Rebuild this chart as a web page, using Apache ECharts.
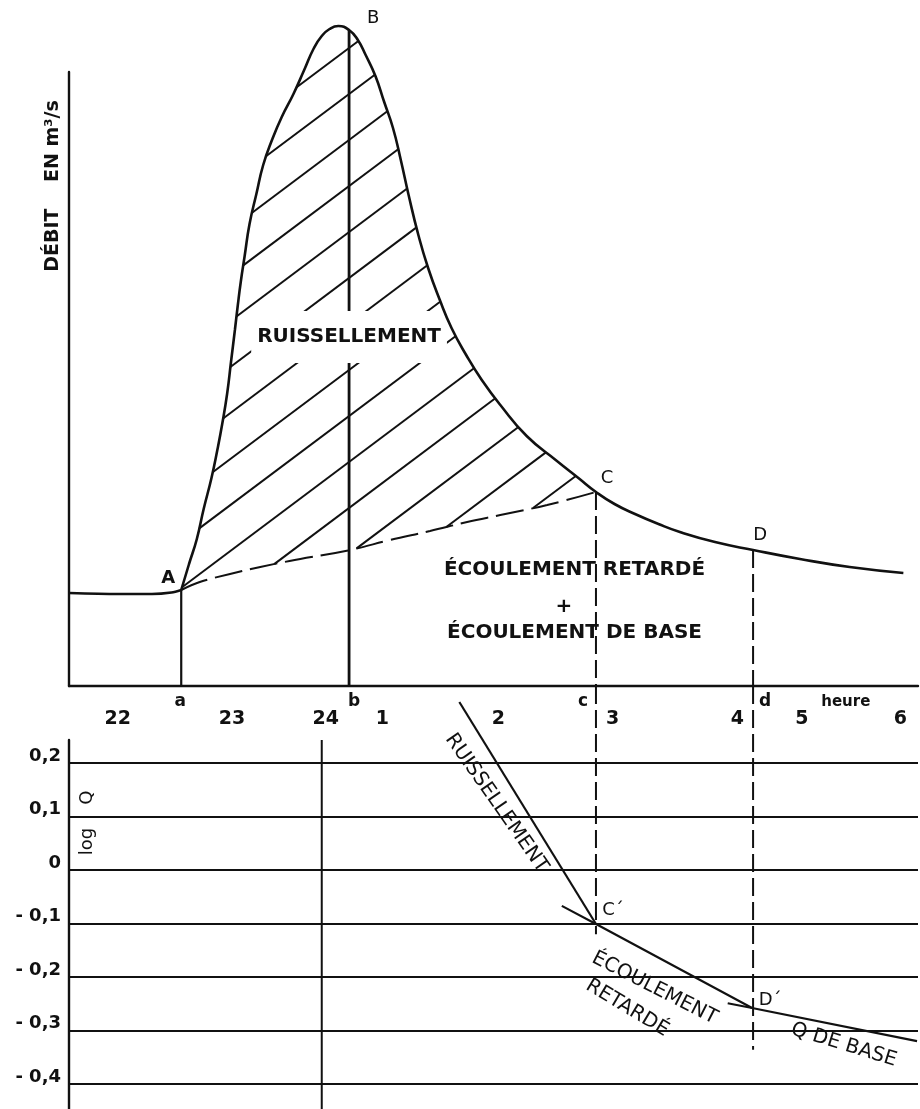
<!DOCTYPE html>
<html>
<head>
<meta charset="utf-8">
<script src="https://cdn.jsdelivr.net/npm/echarts@6/dist/echarts.min.js"></script>
<style>
  html, body { margin: 0; padding: 0; background: #fff; }
  #chart { width: 920px; height: 1109px; }
</style>
</head>
<body>
<div id="chart"></div>
<script>
// ---- Time axis (hours; after midnight counted as 24 + h) ----
const hourTickLabels = ['22', '23', '24', '1', '2', '3', '4', '5', '6'];
const hourTickPos    = [22.0, 23.17, 24.13, 24.71, 25.90, 27.07, 28.35, 29.01, 30.02];
const midnight = 24.09;

// ---- Upper panel: discharge (m3/s) ----
const preStorm = [[21.5, 9.3], [22.0, 9.2], [22.35, 9.2], [22.55, 9.35], [22.65, 9.6]];
const hydrograph = [
  [22.65, 9.6], [22.73, 12.2], [22.81, 14.7], [22.88, 17.7], [22.96, 20.8], [23.02, 23.6],
  [23.07, 26.2], [23.12, 29.2], [23.16, 32.4], [23.20, 35.6], [23.23, 38.1], [23.26, 40.4],
  [23.30, 43.0], [23.35, 46.2], [23.42, 49.2], [23.49, 52.1], [23.58, 54.6], [23.68, 56.9],
  [23.80, 59.2], [23.91, 61.6], [24.01, 63.8], [24.09, 65.0], [24.17, 65.7], [24.26, 66.0],
  [24.37, 65.6], [24.46, 64.6], [24.54, 63.1], [24.64, 61.0], [24.73, 58.4], [24.82, 55.8],
  [24.90, 52.6], [24.98, 49.1], [25.08, 45.1], [25.18, 41.8], [25.30, 38.6], [25.42, 35.8],
  [25.57, 33.1], [25.73, 30.6], [25.92, 28.1], [26.19, 25.0], [26.50, 22.5], [26.72, 20.8],
  [26.90, 19.4], [27.09, 18.2], [27.30, 17.2], [27.54, 16.2], [27.76, 15.4], [28.12, 14.4],
  [28.51, 13.6], [28.99, 12.7], [29.50, 11.9], [30.05, 11.3]
];
// separation of runoff from delayed + base flow, A -> C
const separation = [
  [22.65, 9.6], [22.84, 10.4], [23.15, 11.2], [23.46, 11.9], [23.76, 12.5], [24.38, 13.6],
  [24.79, 14.6], [25.20, 15.5], [25.58, 16.4], [25.92, 17.1], [26.40, 18.1], [26.90, 19.4]
];
const pointA = [22.65, 9.6];
const pointB = [24.37, 65.6];
const pointC = [26.90, 19.4];
const pointD = [28.51, 13.6];

// ---- Lower panel: log Q ----
const logTicks = [0.2, 0.1, 0, -0.1, -0.2, -0.3, -0.4];
const logTickLabels = ['0,2', '0,1', '0', '- 0,1', '- 0,2', '- 0,3', '- 0,4'];
const logRunoff  = [[25.50, 0.314], [26.90, -0.101]];
const logDelayed = [[26.55, -0.067], [26.90, -0.101], [28.50, -0.258]];
const logBase    = [[28.25, -0.249], [28.50, -0.258], [30.19, -0.320]];
const pointCp = [26.90, -0.101];
const pointDp = [28.50, -0.258];
const logAtTopAxis = 0.344;   // log value level of the upper panel's time axis
const cGuideEnd = -0.12;
const dGuideEnd = -0.336;

const INK = '#111';
const FONT = '"DejaVu Sans", Verdana, sans-serif';
const X_MIN = 21.5, X_MAX = 30.2;

function lineSeries(data, grid, width, extra) {
  return Object.assign({
    type: 'line', data, xAxisIndex: grid, yAxisIndex: grid,
    symbol: 'none', silent: true, clip: false, z: 3,
    lineStyle: { color: INK, width: width },
    emphasis: { disabled: true }
  }, extra || {});
}

function textSeries(items, grid, style, z) {
  return {
    type: 'scatter', xAxisIndex: grid, yAxisIndex: grid,
    symbolSize: 1, itemStyle: { color: 'rgba(0,0,0,0)', opacity: 1 },
    silent: true, clip: false, z: z || 4,
    emphasis: { disabled: true },
    label: Object.assign({ show: true, position: 'inside', color: INK, opacity: 1, fontFamily: FONT }, style),
    data: items.map(it => ({ value: it.at, label: Object.assign({ formatter: it.text }, it.label || {}) }))
  };
}

// Hatching of the runoff area between the hydrograph and the separation line
const hatchSeries = {
  type: 'custom', xAxisIndex: 0, yAxisIndex: 0, z: 1, silent: true, clip: false,
  data: [pointA],
  renderItem: function (params, api) {
    const upper = hydrograph.filter(p => p[0] <= pointC[0]);
    const poly = upper.concat(separation.slice().reverse()).map(p => api.coord(p));
    const pb = api.coord(pointB);
    const slope = 0.75, gap = 46;
    const children = [];
    for (let k = 0; k < 20; k++) {
      const c = pb[1] + 18 + gap * k;
      const hits = [];
      for (let i = 0; i < poly.length - 1; i++) {
        const p = poly[i], q = poly[i + 1];
        const f1 = p[1] + slope * (p[0] - pb[0]) - c;
        const f2 = q[1] + slope * (q[0] - pb[0]) - c;
        if ((f1 < 0) !== (f2 < 0)) {
          const t = f1 / (f1 - f2);
          hits.push([p[0] + t * (q[0] - p[0]), p[1] + t * (q[1] - p[1])]);
        }
      }
      hits.sort((u, v) => u[0] - v[0]);
      for (let j = 0; j + 1 < hits.length; j += 2) {
        children.push({
          type: 'line',
          shape: { x1: hits[j][0], y1: hits[j][1], x2: hits[j + 1][0], y2: hits[j + 1][1] },
          style: { stroke: INK, lineWidth: 2 }
        });
      }
    }
    return { type: 'group', children };
  }
};

const guideDash = [18, 6];

const series = [
  hatchSeries,
  // vertical guides a, b (solid) and c, d (dashed)
  lineSeries([[pointA[0], pointA[1]], [pointA[0], 0]], 0, 2.2, { z: 1 }),
  lineSeries([[pointB[0], pointB[1]], [pointB[0], 0]], 0, 2.8, { z: 1 }),
  lineSeries([[pointC[0], pointC[1]], [pointC[0], 0]], 0, 2, { z: 1, lineStyle: { color: INK, width: 2, type: guideDash } }),
  lineSeries([[pointD[0], pointD[1]], [pointD[0], 0]], 0, 2, { z: 1, lineStyle: { color: INK, width: 2, type: guideDash } }),
  lineSeries([[pointC[0], logAtTopAxis], [pointC[0], cGuideEnd]], 1, 2, { z: 1, lineStyle: { color: INK, width: 2, type: guideDash } }),
  lineSeries([[pointD[0], logAtTopAxis], [pointD[0], dGuideEnd]], 1, 2, { z: 1, lineStyle: { color: INK, width: 2, type: guideDash } }),
  // midnight line in the lower panel
  lineSeries([[midnight, 0.243], [midnight, -0.5]], 1, 2, { z: 1 }),

  // label over the runoff area (white box breaks the hatching)
  textSeries([{ text: 'RUISSELLEMENT', at: [pointB[0], 34.9] }], 0,
    { fontSize: 20, fontWeight: 'bold', backgroundColor: '#fff', padding: [16, 6] }, 2),

  // hydrograph and separation line
  lineSeries(preStorm, 0, 2.4, { smooth: 0.3 }),
  lineSeries(hydrograph, 0, 2.6, { smooth: 0.5 }),
  lineSeries(separation, 0, 2, { smooth: 0.4, lineStyle: { color: INK, width: 2, type: [28, 8] } }),

  // lower panel recession lines
  lineSeries(logRunoff, 1, 2.2),
  lineSeries(logDelayed, 1, 2.2),
  lineSeries(logBase, 1, 2.2),

  // upper panel texts
  textSeries([
    { text: 'ÉCOULEMENT RETARDÉ', at: [26.68, 11.6] },
    { text: '+', at: [26.57, 7.9] },
    { text: 'ÉCOULEMENT DE BASE', at: [26.68, 5.3] },
    { text: 'DÉBIT    EN m³/s', at: [21.34, 50.0], label: { rotate: 90, fontSize: 19 } },
    { text: 'A', at: pointA, label: { offset: [-13, -12], fontSize: 18 } },
    { text: 'B', at: pointB, label: { offset: [24, -12], fontWeight: 'normal', fontSize: 18 } },
    { text: 'C', at: pointC, label: { offset: [11, -14], fontWeight: 'normal', fontSize: 18 } },
    { text: 'D', at: pointD, label: { offset: [7, -15], fontWeight: 'normal', fontSize: 18 } }
  ], 0, { fontSize: 20, fontWeight: 'bold' }),

  // time axis labels
  textSeries(hourTickLabels.map((t, i) => ({ text: t, at: [hourTickPos[i], -3.3] })), 0,
    { fontSize: 19, fontWeight: 'bold' }),
  textSeries([
    { text: 'a', at: [pointA[0], -1.6], label: { offset: [-1, 0] } },
    { text: 'b', at: [pointB[0], -1.6], label: { offset: [5, 0] } },
    { text: 'c', at: [pointC[0], -1.6], label: { offset: [-13, 0] } },
    { text: 'd', at: [pointD[0], -1.6], label: { offset: [12, 0] } },
    { text: 'heure', at: [29.46, -1.6], label: { fontSize: 15 } }
  ], 0, { fontSize: 17, fontWeight: 'bold' }),

  // lower panel texts
  textSeries([
    { text: 'RUISSELLEMENT', at: [25.88, 0.125], label: { rotate: -55 } },
    { text: 'ÉCOULEMENT', at: [27.50, -0.221], label: { rotate: -27 } },
    { text: 'RETARDÉ', at: [27.22, -0.258], label: { rotate: -31 } },
    { text: 'Q DE BASE', at: [29.44, -0.327], label: { rotate: -17 } },
    { text: 'C´', at: pointCp, label: { offset: [17, -14], fontSize: 18 } },
    { text: 'D´', at: pointDp, label: { offset: [18, -8], fontSize: 18 } },
    { text: 'log    Q', at: [21.69, 0.088], label: { rotate: 90, fontSize: 18 } }
  ], 1, { fontSize: 20 })
];

const axisLineStyle = { color: INK, width: 2.4 };

const option = {
  animation: false,
  backgroundColor: '#fff',
  grid: [
    { left: 69, top: 72, width: 849, height: 614, outerBoundsMode: 'none' },
    { left: 69, top: 740, width: 849, height: 397.5, outerBoundsMode: 'none' }
  ],
  xAxis: [
    { type: 'value', gridIndex: 0, min: X_MIN, max: X_MAX,
      axisLine: { show: true, onZero: false, lineStyle: axisLineStyle },
      axisTick: { show: false }, axisLabel: { show: false }, splitLine: { show: false } },
    { type: 'value', gridIndex: 1, min: X_MIN, max: X_MAX,
      axisLine: { show: false }, axisTick: { show: false }, axisLabel: { show: false }, splitLine: { show: false } }
  ],
  yAxis: [
    { type: 'value', gridIndex: 0, min: 0, max: 61.4,
      axisLine: { show: true, onZero: false, lineStyle: axisLineStyle },
      axisTick: { show: false }, axisLabel: { show: false }, splitLine: { show: false } },
    { type: 'value', gridIndex: 1, min: -0.5, max: 0.243, interval: 0.1,
      axisLine: { show: true, onZero: false, lineStyle: axisLineStyle },
      axisTick: { show: false },
      axisLabel: {
        show: true, color: INK, fontFamily: FONT, fontSize: 18, fontWeight: 'bold',
        align: 'right', margin: 8, verticalAlign: 'bottom', lineHeight: 14,
        formatter: function (v) {
          const i = logTicks.findIndex(t => Math.abs(t - v) < 1e-6);
          return i >= 0 ? logTickLabels[i] : '';
        }
      },
      splitLine: { show: true, showMinLine: false, showMaxLine: false, lineStyle: { color: INK, width: 2 } } }
  ],
  series
};

const chart = echarts.init(document.getElementById('chart'), null, { renderer: 'canvas' });
chart.setOption(option);
</script>
</body>
</html>
